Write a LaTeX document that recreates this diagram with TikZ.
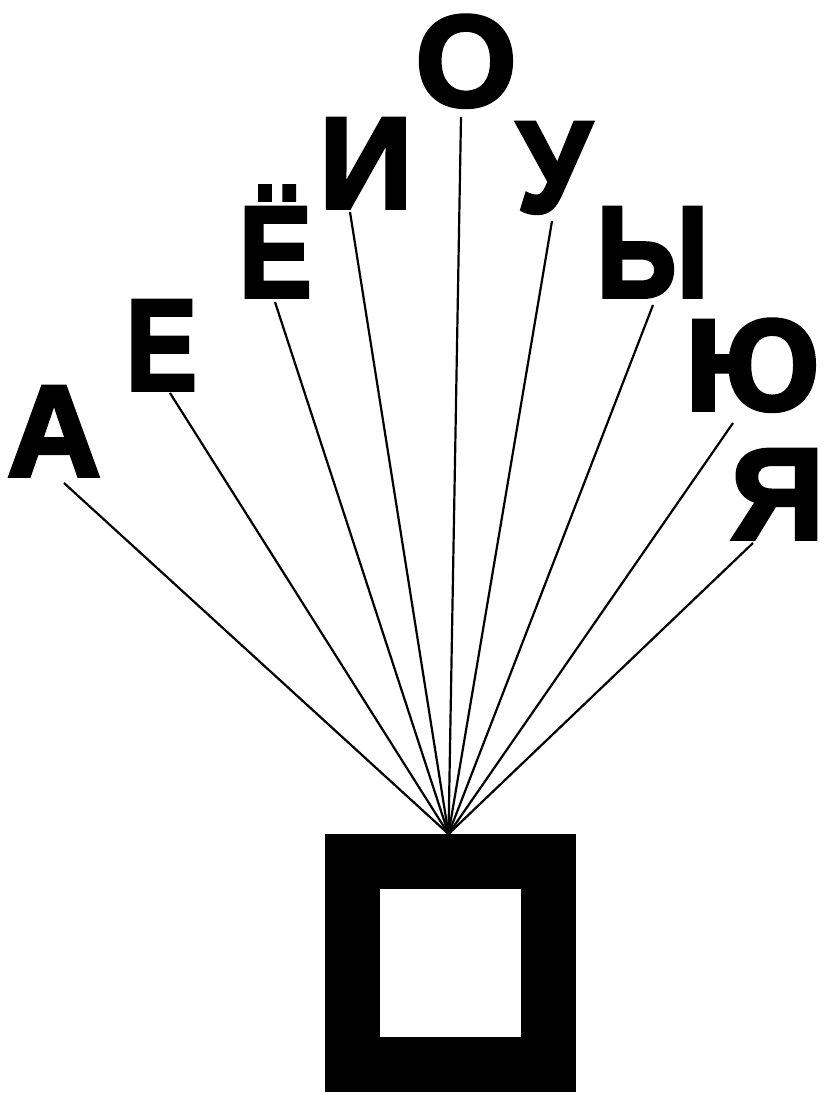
\documentclass[tikz,border=0pt]{standalone}
\usepackage{fontspec}
\setmainfont{Liberation Sans}
\newfontfamily\vowelfont{Liberation Sans Bold}[FakeBold=3]
\begin{document}
\begin{tikzpicture}[x=1pt,y=-1pt,
  vowel/.style={inner sep=0pt,anchor=base,font=\fontsize{130}{130}\selectfont\vowelfont},
  ray/.style={line width=2.2pt}]
\useasboundingbox (0,0) rectangle (823,1094);
% the box the rays come out of
\node[draw,line width=55pt,minimum width=196pt,minimum height=203pt,inner sep=0pt,outer sep=27.5pt] (box) at (450.5,963) {};
\coordinate (apex) at ([xshift=-2pt]box.north);
% vowels on a fan
\node[vowel] (a) at (54,476) {А};
\node[vowel] (e) at (161.5,390) {\scalebox{0.82}[1]{Е}};
\node[vowel] (yo) at (275.5,297) {\scalebox{0.84}[1]{Ё}};
\node[vowel] (i) at (366,208) {И};
\node[vowel] (o) at (466,106) {О};
\node[vowel] (u) at (554,212) {\scalebox{0.92}[1]{У}};
\node[vowel] (y) at (652.5,297) {\scalebox{0.88}[1]{Ы}};
\node[vowel] (yu) at (752.5,410) {Ю};
\node[vowel] (ya) at (777.5,539) {Я};
% free ends of the rays, just under each letter
\coordinate (a-end) at (64,483);
\coordinate (e-end) at (170,393);
\coordinate (yo-end) at (275,302);
\coordinate (i-end) at (350,212);
\coordinate (o-end) at (461,117);
\coordinate (u-end) at (552,221);
\coordinate (y-end) at (653,305);
\coordinate (yu-end) at (733,423);
\coordinate (ya-end) at (753,543);
\foreach \v in {a,e,yo,i,o,u,y,yu,ya}
  \draw[ray] (apex) -- (\v-end);
\end{tikzpicture}
\end{document}
